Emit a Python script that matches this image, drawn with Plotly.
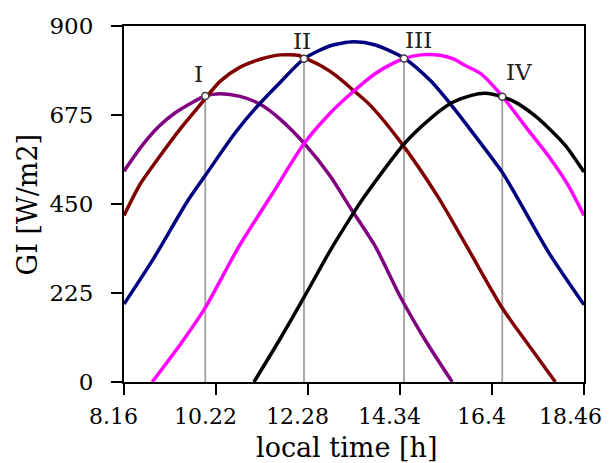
import plotly.graph_objects as go

# values
purple_t = [8.16, 8.56, 8.95, 9.30, 9.68, 9.98, 10.31, 10.76, 11.21, 11.66, 12.22, 12.78, 13.23, 13.79, 14.35, 14.91, 15.51]
purple_gi = [533, 597, 647, 680, 706, 723, 729, 722, 702, 664, 600, 520, 440, 342, 215, 105, 0]

maroon_t = [8.16, 8.52, 8.97, 9.42, 9.86, 10.31, 10.76, 11.21, 11.66, 12.06, 12.22, 12.56, 12.90, 13.29, 13.67, 14.35, 15.18, 15.80, 16.63, 17.26, 17.82]
maroon_gi = [421, 500, 572, 640, 700, 760, 796, 816, 827, 826, 818, 800, 775, 738, 700, 607, 470, 350, 187, 87, 0]

blue_t = [8.16, 8.81, 9.57, 9.98, 10.65, 11.12, 11.66, 12.19, 12.78, 13.29, 13.79, 14.44, 15.02, 15.49, 15.80, 16.63, 16.93, 17.66, 18.46]
blue_gi = [197, 310, 455, 522, 630, 694, 758, 817, 850, 860, 852, 818, 762, 700, 655, 530, 473, 329, 195]

magenta_t = [8.79, 9.42, 9.98, 10.72, 11.46, 12.20, 12.78, 13.23, 13.79, 14.19, 14.44, 14.80, 15.24, 15.55, 15.80, 16.14, 16.61, 17.19, 17.64, 18.09, 18.46]
magenta_gi = [0, 95, 188, 340, 472, 604, 680, 728, 780, 806, 818, 827, 826, 816, 800, 780, 725, 640, 575, 500, 421]

black_t = [11.07, 11.66, 12.22, 12.78, 13.23, 13.52, 14.44, 15.02, 15.47, 15.92, 16.25, 16.63, 16.93, 17.33, 17.66, 18.05, 18.46]
black_gi = [0, 110, 220, 333, 415, 465, 603, 666, 704, 724, 730, 721, 707, 676, 643, 597, 531]

mark_t = [9.98, 12.19, 14.43, 16.63]
mark_gi = [723, 817, 818, 721]
mark_names = ["I", "II", "III", "IV"]

x_ticks = [8.16, 10.22, 12.28, 14.34, 16.4, 18.46]
y_ticks = [0, 225, 450, 675, 900]

FONT = "DejaVu Serif"

fig = go.Figure()

# gray drop lines from each crossing point down to the axis
for t, gi in zip(mark_t, mark_gi):
    fig.add_trace(go.Scatter(x=[t, t], y=[0, gi], mode="lines",
                             line=dict(color="#a0a0a0", width=1.8),
                             hoverinfo="skip", showlegend=False))

series = [
    (purple_t, purple_gi, "#800080"),
    (maroon_t, maroon_gi, "#800000"),
    (blue_t, blue_gi, "#000080"),
    (magenta_t, magenta_gi, "#ff00ff"),
    (black_t, black_gi, "#000000"),
]
for xs, ys, col in series:
    fig.add_trace(go.Scatter(x=xs, y=ys, mode="lines",
                             line=dict(color=col, width=3.5, shape="spline", smoothing=0.7),
                             showlegend=False))

fig.add_trace(go.Scatter(x=mark_t, y=mark_gi, mode="markers",
                         marker=dict(size=7, color="white", line=dict(color="#404040", width=1.5)),
                         showlegend=False))

offsets = [(-7, 22), (-2, 18), (14, 18), (17, 25)]
for name, t, gi, (dx, dy) in zip(mark_names, mark_t, mark_gi, offsets):
    fig.add_annotation(x=t, y=gi, text=name, showarrow=False, xshift=dx, yshift=dy,
                       font=dict(family=FONT, size=23, color="#202020"))

# x tick labels sit a little left of their ticks in the original;
# the last one is right-aligned so it stays inside the page
for i, v in enumerate(x_ticks):
    last = i == len(x_ticks) - 1
    fig.add_annotation(x=v, y=0, xref="x", yref="paper", text=str(v), showarrow=False,
                       xanchor="right" if last else "center", yanchor="top",
                       xshift=20 if last else -11, yshift=-20,
                       font=dict(family=FONT, size=22, color="black"))

fig.add_annotation(x=0.483, y=-0.183, xref="paper", yref="paper", text="local time [h]",
                   showarrow=False, xanchor="center", yanchor="middle",
                   font=dict(family=FONT, size=27, color="black"))
fig.add_annotation(x=-0.21, y=0.5, xref="paper", yref="paper", text="GI [W/m2]", textangle=-90,
                   showarrow=False, xanchor="center", yanchor="middle",
                   font=dict(family=FONT, size=27, color="black"))

fig.update_xaxes(range=[8.16, 18.46], tickvals=x_ticks, showticklabels=False, automargin=False,
                 showgrid=False, zeroline=False, showline=True, linecolor="black", linewidth=2,
                 mirror=True, ticks="outside", ticklen=11, tickwidth=2, tickcolor="black")
fig.update_yaxes(range=[0, 900], tickvals=y_ticks, automargin=False,
                 showgrid=False, zeroline=False, showline=True, linecolor="black", linewidth=2,
                 mirror=True, ticks="outside", ticklen=11, tickwidth=2, tickcolor="black",
                 tickfont=dict(family=FONT, size=23, color="black"), ticklabelstandoff=13)

# the page body adds an 8px offset, so the figure is drawn 8px smaller
fig.update_layout(width=602, height=455, margin=dict(l=116, r=26, t=18, b=81),
                  plot_bgcolor="white", paper_bgcolor="white")

fig.write_html("out.html")
